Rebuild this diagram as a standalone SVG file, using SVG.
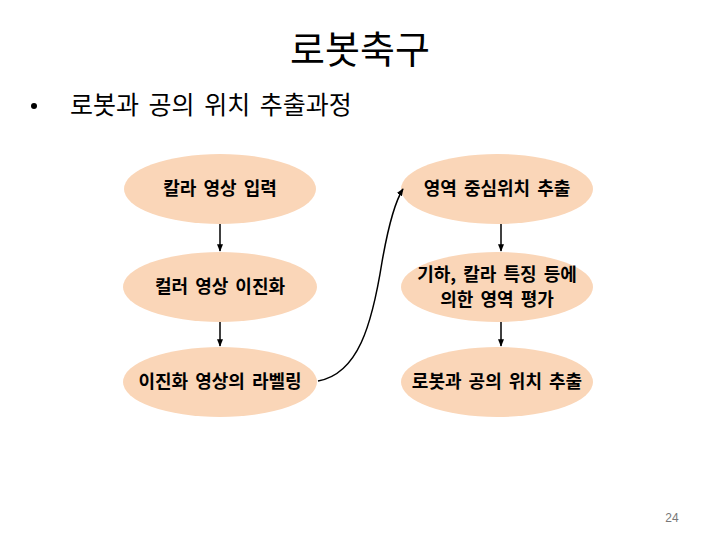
<svg xmlns="http://www.w3.org/2000/svg" width="720" height="540" viewBox="0 0 720 540">
<style>
.t{font-family:"Noto Sans CJK KR","Noto Sans CJK SC",sans-serif;fill:#000}
.n{fill:#FAD6B8;stroke:none}
.l{font-family:"Noto Sans CJK KR",sans-serif;font-size:18px;font-weight:bold;text-anchor:middle;fill:#000;word-spacing:3px}
.c{stroke:#000;stroke-width:1.5;fill:none;marker-end:url(#a)}
</style>
<defs>
<marker id="a" viewBox="0 0 10 10" refX="9" refY="5" markerWidth="5" markerHeight="5" orient="auto-start-reverse">
<path d="M0,1 L10,5 L0,9 z" fill="#000"/>
</marker>
</defs>
<rect width="720" height="540" fill="#fff"/>
<text class="t" x="360" y="63" font-size="38" text-anchor="middle">로봇축구</text>
<circle cx="34" cy="106" r="3" fill="#000"/>
<text class="t" x="70" y="114" font-size="25" word-spacing="4">로봇과 공의 위치 추출과정</text>
<g id="n1"><ellipse class="n" cx="220" cy="189" rx="96" ry="35"/><text class="l" x="220" y="195">칼라 영상 입력</text></g>
<g id="n2"><ellipse class="n" cx="220" cy="287" rx="97" ry="35"/><text class="l" x="220" y="293">컬러 영상 이진화</text></g>
<g id="n3"><ellipse class="n" cx="220" cy="382" rx="97" ry="35"/><text class="l" x="220" y="388">이진화 영상의 라벨링</text></g>
<g id="n4"><ellipse class="n" cx="497" cy="189" rx="96" ry="35"/><text class="l" x="497" y="195">영역 중심위치 추출</text></g>
<g id="n5"><ellipse class="n" cx="497" cy="287" rx="96" ry="35"/><text class="l" font-size="17px"><tspan x="497" y="281">기하, 칼라 특징 등에</tspan><tspan x="497" y="306">의한 영역 평가</tspan></text></g>
<g id="n6"><ellipse class="n" cx="497" cy="382" rx="96" ry="35"/><text class="l" x="497" y="388">로봇과 공의 위치 추출</text></g>
<g id="connectors">
<line class="c" x1="220" y1="224" x2="220" y2="251"/>
<line class="c" x1="220" y1="322" x2="220" y2="346"/>
<line class="c" x1="501" y1="224" x2="501" y2="251"/>
<line class="c" x1="501" y1="322" x2="501" y2="346"/>
<path class="c" d="M318,381 C358,374 372,325 382,262 C389,222 396,200 403,189"/>
</g>
<text x="672" y="522" font-family="Liberation Sans,Arial,sans-serif" font-size="12" fill="#777" text-anchor="middle">24</text>
</svg>
